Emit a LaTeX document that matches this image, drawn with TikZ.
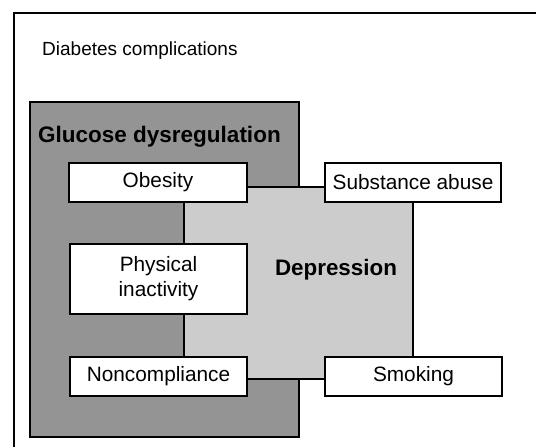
\documentclass[tikz,border=0pt]{standalone}
\usepackage{fontspec}
\setmainfont{Liberation Sans}
\definecolor{darkfill}{gray}{0.58}
\definecolor{lightfill}{gray}{0.80}
\tikzset{
  region/.style={draw=black, line width=2pt, rectangle, inner sep=0pt},
  factor/.style={draw=black, line width=2.2pt, fill=white, rectangle, inner sep=0pt,
    align=center, font=\fontsize{20.8}{25}\selectfont},
  label/.style={inner sep=0pt},
}
\begin{document}
\begin{tikzpicture}[x=1pt,y=-1pt]
\useasboundingbox (0,0) rectangle (536,447);
\fill[white] (0,0) rectangle (536,447);
% outer frame (top and left edges visible)
\draw[line width=2.2pt] (536,13) -- (14,13) -- (14,447);
\node[label, anchor=base west, font=\fontsize{19}{22}\selectfont] (title) at (42,55) {Diabetes complications};
% regions
\node[region, fill=darkfill, minimum width=269pt, minimum height=335pt] (glucose) at (164.5,269.5) {};
\node[label, anchor=base west, font=\bfseries\fontsize{22.5}{26}\selectfont] (glucoselabel) at (38,142) {Glucose dysregulation};
\node[region, line width=1.6pt, fill=lightfill, minimum width=229pt, minimum height=192pt] (depression) at (298.5,283) {};
\node[label, font=\bfseries\fontsize{22.4}{26}\selectfont] (depressionlabel) at (336,270) {Depression};
% factors
\node[factor, minimum width=178pt, minimum height=39pt] (obesity) at (158,182.5) {Obesity};
\node[factor, minimum width=177pt, minimum height=70pt] (inactivity) at (158.5,279) {Physical\\inactivity};
\node[factor, minimum width=177pt, minimum height=39pt] (noncompliance) at (158.5,376.5) {Noncompliance};
\node[factor, minimum width=176pt, minimum height=39pt] (substance) at (413,182.5) {Substance abuse};
\node[factor, minimum width=177pt, minimum height=39pt] (smoking) at (413.5,376.5) {Smoking};
\end{tikzpicture}
\end{document}
